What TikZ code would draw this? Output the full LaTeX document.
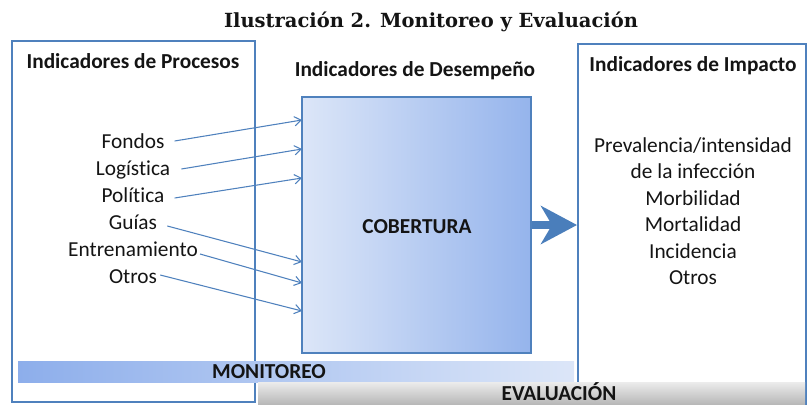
\documentclass[tikz,border=0pt]{standalone}
\usepackage{fontspec}
\setmainfont{Carlito}[Ligatures=NoCommon]
\newfontfamily\titlefont{DejaVu Serif}
\usetikzlibrary{arrows.meta}
\definecolor{bord}{RGB}{79,129,189}
\definecolor{arrowblue}{RGB}{74,126,187}
\definecolor{cobL}{RGB}{220,230,248}
\definecolor{cobR}{RGB}{149,180,236}
\definecolor{monL}{RGB}{141,174,235}
\definecolor{monR}{RGB}{220,230,248}
\definecolor{evT}{RGB}{236,236,236}
\definecolor{evB}{RGB}{184,184,184}
\definecolor{ink}{RGB}{20,20,20}
\begin{document}
\begin{tikzpicture}[x=0.75pt,y=-0.75pt,
 txt/.style={font=\fontsize{16}{19.5}\selectfont, text=ink, inner sep=0pt, anchor=base},
 head/.style={txt, font=\fontsize{16}{19.5}\selectfont\bfseries},
 panel/.style={draw=bord, line width=1.5pt, inner sep=0pt},
 arr/.style={draw=bord, line width=0.8pt, -{Straight Barb[length=5pt,width=7pt]}},
 big/.style={draw=arrowblue, line width=6pt, -{Stealth[length=27pt,width=28.5pt,inset=8.25pt]}}
]
\useasboundingbox (0,0) rectangle (807,404);
% title
\node[inner sep=0pt, anchor=base, text=ink, font=\titlefont\bfseries\fontsize{14.6}{17}\selectfont] (title) at (431,27) {Ilustración 2. Monitoreo y Evaluación};
% panels
\node[panel, minimum width=243*0.75pt, minimum height=361*0.75pt] (proc) at (133.5,221.5) {};
\node[panel, left color=cobL, right color=cobR, minimum width=229*0.75pt, minimum height=256*0.75pt] (cob) at (416.5,225) {};
\node[panel, minimum width=228*0.75pt, minimum height=360*0.75pt] (imp) at (692,224) {};
% headings
\node[head] (hproc) at (133,68) {Indicadores de Procesos};
\node[head] (hdes) at (415,76) {Indicadores de Desempeño};
\node[head] (himp) at (693,71) {Indicadores de Impacto};
\node[head] (cobtxt) at (417,233) {COBERTURA};
% left list
\node[txt] (fondos) at (133,148) {Fondos};
\node[txt] (logis) at (133,175) {Logística};
\node[txt] (polit) at (133,202) {Política};
\node[txt] (guias) at (133,229) {Guías};
\node[txt] (entre) at (133,256) {Entrenamiento};
\node[txt] (otrosA) at (133,283) {Otros};
% right list
\node[txt] (prev) at (693,152) {Prevalencia/intensidad};
\node[txt] (infec) at (693,178.5) {de la infección};
\node[txt] (morb) at (693,205) {Morbilidad};
\node[txt] (mort) at (693,231.5) {Mortalidad};
\node[txt] (inci) at (693,258) {Incidencia};
\node[txt] (otrosB) at (693,284.5) {Otros};
% arrow ends on COBERTURA box
\coordinate (e1) at (302,120);
\coordinate (e2) at (302,149);
\coordinate (e3) at (302,178);
\coordinate (e4) at (302,262);
\coordinate (e5) at (302,283);
\coordinate (e6) at (302,311);
\draw[arr] ([xshift=7.5pt,yshift=5.25pt]fondos.base east) -- (e1);
\draw[arr] ([xshift=8.25pt,yshift=4.5pt]logis.base east) -- (e2);
\draw[arr] ([xshift=7.5pt,yshift=3pt]polit.base east) -- (e3);
\draw[arr] ([xshift=7.5pt,yshift=2.25pt]guias.base east) -- (e4);
\draw[arr] ([xshift=1.5pt,yshift=1.5pt]entre.base east) -- (e5);
\draw[arr] ([xshift=2.25pt,yshift=6pt]otrosA.base east) -- (e6);
% big arrow
\draw[big] (cob.east) -- (imp.west |- cob.east);
% bars
\node[inner sep=0pt, left color=monL, right color=monR, minimum width=556*0.75pt, minimum height=21*0.75pt] (monbar) at (296,371.5) {};
\node[head] (mon) at (269,378) {MONITOREO};
\node[inner sep=0pt, top color=evT, bottom color=evB, minimum width=547*0.75pt, minimum height=22*0.75pt] (evbar) at (531.5,393) {};
\node[head] (ev) at (559,400) {EVALUACIÓN};
\end{tikzpicture}
\end{document}
